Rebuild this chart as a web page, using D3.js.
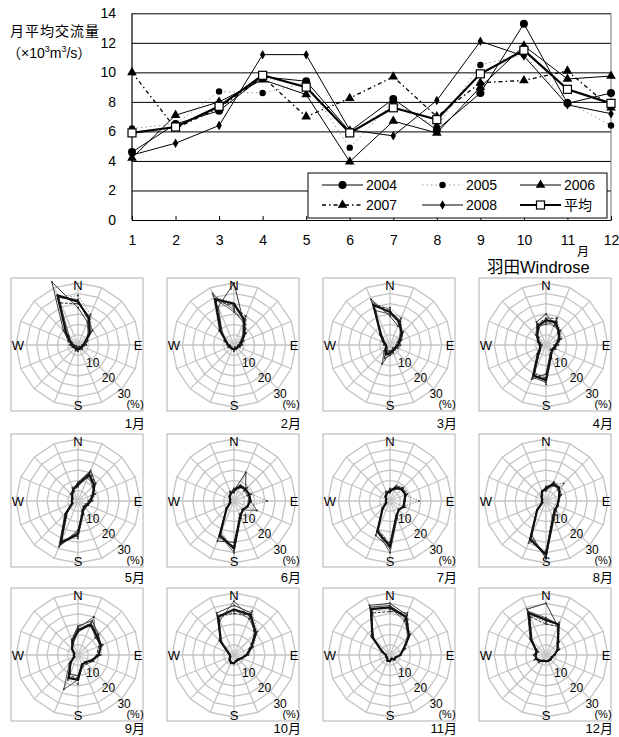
<!DOCTYPE html>
<html>
<head>
<meta charset="utf-8">
<title>羽田 月平均交流量 / Windrose</title>
<script src="https://d3js.org/d3.v7.min.js"></script>
<style>
body{margin:0;background:#fff;}
svg text{font-family:"Liberation Sans","Noto Sans CJK JP",sans-serif;fill:#000;}
</style>
</head>
<body>
<svg id="chart" width="619" height="737"></svg>
<script>
// ---- data: monthly mean flow (x10^3 m3/s) ----
var months = [1,2,3,4,5,6,7,8,9,10,11,12];
var yTicks = [0,2,4,6,8,10,12,14];
var v2004 = [4.6,6.5,7.4,9.7,9.4,6.0,8.2,6.1,8.6,13.3,7.9,8.6];
var v2005 = [6.2,6.5,8.7,8.6,9.3,4.9,8.0,6.3,10.5,11.2,8.0,6.4];
var v2006 = [4.2,7.1,8.0,9.5,8.5,3.95,6.7,5.9,9.0,11.8,9.55,9.75];
var v2007 = [10.0,6.2,7.6,9.7,7.0,8.25,9.7,7.0,9.3,9.45,10.1,7.6];
var v2008 = [4.4,5.2,6.4,11.2,11.2,6.1,5.7,8.1,12.1,11.1,7.8,7.2];
var vAvg  = [5.9,6.3,7.7,9.8,9.0,5.9,7.6,6.8,9.9,11.5,8.85,7.9];

// ---- data: windrose frequencies (%), 16 directions from N clockwise ----
var dirNames = ["N","NNE","NE","ENE","E","ESE","SE","SSE","S","SSW","SW","WSW","W","WNW","NW","NNW"];
var ringVals = [5,10,15,20,25,30];
var ringLabels = [10,20,30];
var monthLabels = ["1月","2月","3月","4月","5月","6月","7月","8月","9月","10月","11月","12月"];

var roseAvg = [
  [21,14,8,4,3,2,2,2,2,2,2,2,3,4,8,26],
  [20,13,7,4,3,2,2,2,2,2,2,2,3,4,9,24],
  [16,12,8,5,4,3,3,3,4,5,3,2,2,3,6,21],
  [12,12,9,7,5,4,4,6,17,16,5,3,3,4,6,10],
  [8,14,11,8,6,5,4,6,16,22,8,3,3,3,4,6],
  [5,8,8,8,8,7,6,8,23,18,5,2,2,2,3,4],
  [5,7,8,8,7,7,6,8,22,16,5,2,2,2,3,4],
  [6,9,9,7,6,6,6,9,26,20,6,2,2,2,3,5],
  [12,16,13,12,10,7,5,5,12,12,5,2,2,2,4,7],
  [22,21,15,9,6,4,3,3,4,4,3,2,2,3,9,20],
  [23,20,13,7,5,3,3,2,3,3,2,2,2,4,12,24],
  [17,16,8,6,4,3,3,3,3,3,4,5,5,5,10,22]
];
var rose2004 = [
  [18,12,7,4,3,2,2,1,2,2,2,2,3,5,10,33],
  [30,12,6,3,3,2,2,2,2,2,2,2,3,4,8,20],
  [14,10,9,6,4,3,3,4,5,7,3,2,2,3,5,24],
  [15,11,9,7,5,4,4,5,14,18,6,3,3,4,6,12],
  [9,16,12,8,6,5,4,6,14,24,9,3,3,3,4,6],
  [5,15,8,8,8,7,6,8,20,21,5,2,2,2,3,4],
  [5,8,9,8,7,7,6,8,23,18,5,2,2,2,3,4],
  [6,10,9,7,6,6,6,9,28,18,6,2,2,2,3,5],
  [14,18,14,12,10,7,5,5,10,10,5,2,2,2,4,8],
  [24,22,14,9,6,4,3,3,4,4,3,2,2,3,9,22],
  [25,21,13,7,5,3,3,2,3,3,2,2,2,4,11,26],
  [25,15,8,6,4,3,3,3,3,3,4,5,5,5,10,24]
];
var rose2005 = [
  [24,16,9,5,3,2,2,2,2,2,1,2,3,3,7,24],
  [18,14,8,5,3,2,2,1,2,2,2,2,2,4,10,27],
  [18,14,8,5,4,3,2,3,3,4,3,2,2,3,7,20],
  [11,13,10,8,6,4,4,7,19,14,5,3,3,4,5,9],
  [7,13,10,9,7,5,4,7,18,20,7,3,3,3,4,5],
  [4,8,9,9,16,7,6,9,24,16,5,2,2,2,3,4],
  [6,7,8,8,14,7,6,8,20,15,5,2,2,2,3,4],
  [6,9,12,7,6,6,6,9,24,22,6,2,2,2,3,5],
  [12,15,13,13,11,7,5,5,14,13,5,2,2,2,4,7],
  [21,23,16,10,6,4,3,3,4,4,3,2,2,3,8,19],
  [22,19,14,8,5,3,3,2,3,3,2,2,2,4,13,23],
  [16,17,9,6,4,3,3,3,3,3,4,6,5,5,9,21]
];
var rose2006 = [
  [22,13,10,4,2,2,2,2,2,3,2,2,3,4,6,25],
  [17,12,7,4,4,3,2,2,2,2,2,3,3,4,9,26],
  [15,12,7,5,5,4,3,3,4,10,4,2,2,3,6,18],
  [10,12,9,6,5,5,4,6,18,17,5,3,2,3,6,10],
  [8,12,11,8,6,5,5,6,16,23,8,3,3,3,4,7],
  [5,7,8,8,8,12,6,8,25,18,5,2,2,2,3,4],
  [5,6,8,8,7,7,6,9,25,16,5,2,2,2,3,4],
  [5,8,9,8,6,6,7,10,27,20,6,2,2,2,3,5],
  [11,16,12,12,10,8,6,6,12,18,6,2,2,2,4,6],
  [26,20,15,9,7,4,3,3,4,4,3,2,2,3,10,18],
  [24,20,12,7,5,3,3,2,3,3,2,2,2,4,12,25],
  [18,16,8,7,4,3,3,3,3,3,4,5,6,5,11,23]
];
var rose2007 = [
  [20,15,7,3,3,2,3,2,3,2,2,3,4,5,9,22],
  [19,15,8,4,2,2,2,2,3,2,2,2,3,5,8,23],
  [17,11,8,4,3,3,3,3,3,3,2,2,2,4,6,22],
  [13,14,8,7,4,4,3,6,16,15,4,3,3,4,7,11],
  [9,15,12,7,6,4,4,5,17,21,7,3,3,3,5,6],
  [6,8,8,8,7,7,6,7,22,19,5,2,2,2,3,5],
  [4,7,9,9,7,8,6,8,21,15,5,2,2,2,3,5],
  [7,9,9,7,6,6,6,8,25,21,6,2,2,2,3,5],
  [12,17,14,11,9,7,5,5,11,11,5,2,2,2,4,7],
  [20,21,14,8,6,4,3,3,4,4,3,2,2,3,9,21],
  [21,22,13,7,5,3,3,2,3,3,2,2,2,4,12,22],
  [15,15,8,6,4,3,3,3,3,3,4,5,5,4,10,20]
];
var rose2008 = [
  [21,14,7,4,4,2,1,2,1,2,2,1,2,3,8,26],
  [16,12,6,4,3,2,2,2,2,2,2,2,3,4,10,24],
  [16,13,8,5,4,3,3,3,4,4,3,2,3,3,6,21],
  [12,10,9,7,5,4,4,6,17,16,5,3,3,4,6,9],
  [7,14,10,8,5,5,4,6,15,22,9,3,3,3,4,6],
  [5,8,7,7,8,7,6,8,23,17,5,2,2,2,3,4],
  [5,7,8,8,7,7,6,8,22,16,5,2,2,2,3,4],
  [6,9,8,7,6,6,6,9,26,19,6,2,2,2,3,5],
  [13,20,12,12,10,7,5,5,12,12,5,2,2,2,4,7],
  [22,19,15,9,6,4,3,3,4,4,3,2,2,3,9,20],
  [23,18,13,7,5,3,3,2,3,3,2,2,2,4,12,24],
  [17,16,8,6,4,3,3,3,3,3,5,5,5,5,10,22]
];

var svg = d3.select("#chart");

// ================= line chart =================
var x = d3.scaleLinear().domain([1,12]).range([132,611]);
var y = d3.scaleLinear().domain([0,14]).range([220,13.3]);

var gy = svg.append("g").attr("transform","translate(132,0)")
  .call(d3.axisLeft(y).tickValues(yTicks).tickSize(-(611-132)).tickPadding(16));
gy.select(".domain").remove();
gy.selectAll(".tick line").attr("stroke","#000").attr("stroke-width",1);
gy.selectAll(".tick text").attr("font-size",14).attr("font-family","Liberation Sans");

svg.append("line").attr("x1",611).attr("x2",611).attr("y1",y(14)).attr("y2",y(0))
  .attr("stroke","#777").attr("stroke-width",1);
svg.append("line").attr("x1",132).attr("x2",132).attr("y1",y(14)).attr("y2",y(0))
  .attr("stroke","#000").attr("stroke-width",1.2);

var series = [
  {name:"2004", values:v2004, stroke:"#000", width:1, dash:null, marker:"circle", size:4},
  {name:"2005", values:v2005, stroke:"#999", width:1, dash:"1.5,3", marker:"circle", size:3.2},
  {name:"2006", values:v2006, stroke:"#000", width:1, dash:null, marker:"triangle", size:40},
  {name:"2007", values:v2007, stroke:"#000", width:1.3, dash:"4,3,1.5,3", marker:"triangle", size:40},
  {name:"2008", values:v2008, stroke:"#000", width:1, dash:null, marker:"diamond", size:26},
  {name:"平均", values:vAvg, stroke:"#000", width:2.2, dash:null, marker:"square", size:60}
];

var line = d3.line().x(function(d,i){ return x(months[i]); }).y(function(d){ return y(d); });

function drawMarker(g, s, px, py){
  if(s.marker === "circle"){
    g.append("circle").attr("cx",px).attr("cy",py).attr("r",s.size).attr("fill","#000");
  }else if(s.marker === "square"){
    g.append("rect").attr("x",px-4).attr("y",py-4).attr("width",8).attr("height",8)
      .attr("fill","#fff").attr("stroke","#000").attr("stroke-width",1.2);
  }else{
    var t = s.marker === "triangle" ? d3.symbolTriangle : d3.symbolDiamond;
    g.append("path").attr("d",d3.symbol().type(t).size(s.size)())
      .attr("transform","translate("+px+","+py+")").attr("fill","#000");
  }
}

var plot = svg.append("g");
series.forEach(function(s){
  plot.append("path").attr("d",line(s.values)).attr("fill","none")
    .attr("stroke",s.stroke).attr("stroke-width",s.width)
    .attr("stroke-dasharray",s.dash);
});
series.forEach(function(s){
  s.values.forEach(function(v,i){ drawMarker(plot,s,x(months[i]),y(v)); });
});

// bottom axis
var gx = svg.append("g").attr("transform","translate(0,"+y(0)+")")
  .call(d3.axisBottom(x).tickValues(months).tickSizeInner(-4).tickSizeOuter(0).tickPadding(15));
gx.select(".domain").attr("stroke","#000").attr("stroke-width",1.2);
gx.selectAll(".tick line").attr("stroke","#000");
gx.selectAll(".tick text").attr("font-size",14).attr("font-family","Liberation Sans");
svg.append("text").attr("x",577).attr("y",256).attr("font-size",12).text("月");

// legend
var lg = svg.append("g");
lg.append("rect").attr("x",308).attr("y",173).attr("width",299).attr("height",45)
  .attr("fill","#fff").attr("stroke","#000").attr("stroke-width",1);
var legCols = [322,422,520], legRows = [185,205];
series.forEach(function(s,i){
  var lx = legCols[i%3], ly = legRows[Math.floor(i/3)];
  lg.append("line").attr("x1",lx).attr("x2",lx+41).attr("y1",ly).attr("y2",ly)
    .attr("stroke",s.stroke).attr("stroke-width",s.width).attr("stroke-dasharray",s.dash);
  drawMarker(lg, s, lx+20.5, ly);
  lg.append("text").attr("x",lx+44).attr("y",ly+5).attr("font-size",14).text(s.name);
});

// y title
svg.append("text").attr("x",10).attr("y",36).attr("font-size",14).attr("letter-spacing",1).text("月平均交流量");
var yt = svg.append("text").attr("x",7).attr("y",58).attr("font-size",14);
yt.append("tspan").text("（×10");
yt.append("tspan").attr("font-size",9).attr("dy",-6).text("3");
yt.append("tspan").attr("dy",6).text("m");
yt.append("tspan").attr("font-size",9).attr("dy",-6).text("3");
yt.append("tspan").attr("dy",6).text("/s）");

// ================= windroses =================
svg.append("text").attr("x",487).attr("y",273).attr("font-size",16.5).text("羽田Windrose");

var r = d3.scaleLinear().domain([0,30]).range([0,62]);
var ang = function(i){ return i*2*Math.PI/dirNames.length; };
var radial = d3.lineRadial().angle(function(d,i){ return ang(i); })
  .radius(function(d){ return r(d); }).curve(d3.curveLinearClosed);

var colX = [78,234,390,546], rowY = [345,501,655];
var roseSeries = [
  {data:rose2004, stroke:"#222", width:0.9, dash:null},
  {data:rose2005, stroke:"#8a8a8a", width:1, dash:"1.5,1.5"},
  {data:rose2006, stroke:"#444", width:0.9, dash:null},
  {data:rose2007, stroke:"#333", width:1, dash:"3,1.5"},
  {data:rose2008, stroke:"#555", width:0.9, dash:null},
  {data:roseAvg, stroke:"#111", width:2.2, dash:null}
];

monthLabels.forEach(function(lab,m){
  var row = Math.floor(m/4);
  var cx = colX[m%4], cy = rowY[row];
  var g = svg.append("g").attr("transform","translate("+cx+","+cy+")");
  g.append("rect").attr("x",-67).attr("y",-67).attr("width",132).attr("height",133)
    .attr("fill","#fff").attr("stroke","#b0b0b0").attr("stroke-width",1);
  ringVals.forEach(function(v){
    g.append("path").attr("d",radial(dirNames.map(function(){ return v; })))
      .attr("fill","none").attr("stroke","#c4c4c4").attr("stroke-width",1.3);
  });
  dirNames.forEach(function(d,i){
    g.append("line").attr("x1",0).attr("y1",0)
      .attr("x2",r(30)*Math.sin(ang(i))).attr("y2",-r(30)*Math.cos(ang(i)))
      .attr("stroke","#c4c4c4").attr("stroke-width",1.3);
  });
  roseSeries.forEach(function(s,k){
    var vals = s.data[m];
    g.append("path").attr("d",radial(vals)).attr("fill","none")
      .attr("stroke",s.stroke).attr("stroke-width",s.width).attr("stroke-dasharray",s.dash)
      .attr("stroke-linejoin","round");
    if(k < 5){
      vals.forEach(function(v,i){
        g.append("circle").attr("cx",r(v)*Math.sin(ang(i))).attr("cy",-r(v)*Math.cos(ang(i)))
          .attr("r",1).attr("fill","#333");
      });
    }
  });
  // compass letters
  [["N",0],["E",4],["S",8],["W",12]].forEach(function(c){
    var a = ang(c[1]), R = 60;
    g.append("text").attr("x",R*Math.sin(a)).attr("y",-R*Math.cos(a))
      .attr("text-anchor","middle").attr("dominant-baseline","central")
      .attr("font-size",13).text(c[0]);
  });
  // ring labels along SE
  ringLabels.forEach(function(v,j){
    var R = r(v) + 3 + j*1.5, a = ang(6);
    g.append("text").attr("x",R*Math.sin(a)-2).attr("y",-R*Math.cos(a)+1)
      .attr("text-anchor","middle").attr("dominant-baseline","central")
      .attr("font-size",12).text(v);
  });
  g.append("text").attr("x",57).attr("y",58.5).attr("text-anchor","middle")
    .attr("dominant-baseline","central").attr("font-size",11).text("(%)");
  g.append("text").attr("x",67).attr("y",83 - row*2.5).attr("text-anchor","end")
    .attr("font-size",13).text(lab);
});
</script>
</body>
</html>
